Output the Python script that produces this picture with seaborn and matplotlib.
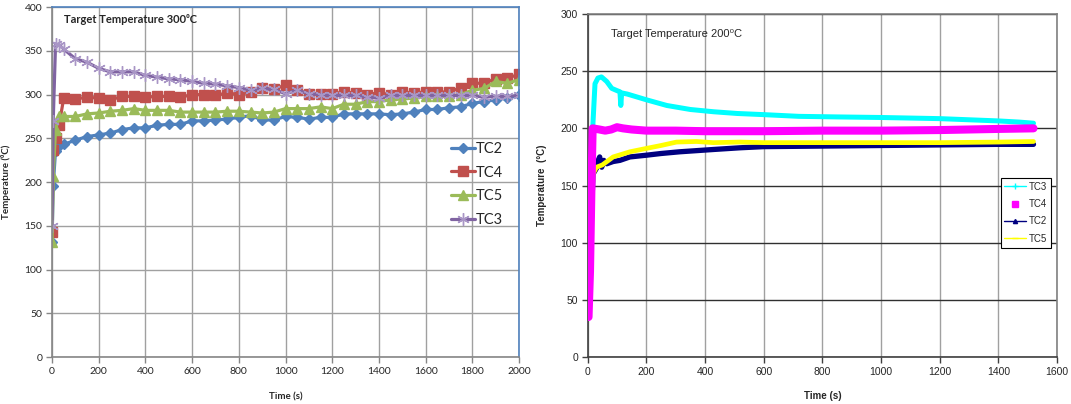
import numpy as np
import pandas as pd
import seaborn as sns
import matplotlib.pyplot as plt
from matplotlib.lines import Line2D

# ---- left chart: target 300 C (Excel style, markers every ~50 s)
time_300 = [0, 5, 15, 30, 50, 100, 150, 200, 250, 300, 350, 400, 450, 500, 550, 600,
            650, 700, 750, 800, 850, 900, 950, 1000, 1050, 1100, 1150, 1200, 1250,
            1300, 1350, 1400, 1450, 1500, 1550, 1600, 1650, 1700, 1750, 1800, 1850,
            1900, 1950, 2000]
tc2_300 = [132, 196, 236, 241, 243, 248, 252, 254, 256, 260, 262, 262, 265, 266, 266, 270,
           270, 271, 272, 274, 276, 271, 271, 275, 274, 272, 274, 274, 278,
           278, 278, 278, 277, 278, 280, 283, 283, 285, 286, 290, 292,
           294, 296, 299]
tc4_300 = [143, 237, 250, 265, 296, 295, 297, 296, 294, 298, 298, 297, 298, 298, 297, 300,
           300, 299, 302, 300, 303, 307, 306, 311, 305, 301, 301, 301, 303,
           302, 300, 302, 300, 303, 302, 303, 303, 303, 308, 313, 313,
           318, 319, 323]
tc5_300 = [131, 207, 260, 275, 275, 275, 278, 279, 281, 282, 284, 282, 282, 282, 280, 280,
           280, 280, 281, 281, 280, 279, 280, 284, 284, 284, 286, 284, 289,
           289, 292, 292, 294, 295, 296, 298, 298, 298, 300, 305, 307,
           315, 313, 317]
tc3_300 = [150, 270, 358, 357, 352, 341, 337, 330, 326, 326, 326, 322, 320, 318, 317, 315,
           313, 312, 310, 308, 305, 307, 306, 301, 305, 301, 300, 299, 299,
           299, 297, 296, 299, 299, 299, 299, 299, 299, 299, 299, 297,
           298, 298, 299]

# ---- right chart: target 200 C (logger data, read at irregular times)
tc3_t = [0, 10, 18, 25, 35, 47, 65, 82, 100, 110, 113, 116, 135, 200, 270, 350, 430,
         510, 600, 720, 850, 1000, 1100, 1200, 1300, 1400, 1470, 1520]
tc3_v = [38, 120, 204, 239, 244, 245, 241, 235, 233, 232, 220, 231, 230, 225, 220, 216.5,
         214.5, 213, 212, 210.5, 210, 209.5, 209, 208.5, 207.5, 206.5, 205.5, 204.5]
tc4_t = [0, 3, 8, 13, 17, 40, 60, 80, 100, 120, 150, 200, 300, 400, 500, 600, 800,
         1000, 1200, 1400, 1520]
tc4_v = [35, 35, 75, 150, 200, 199, 198, 199, 201, 200, 199, 198, 198, 197.5, 197.5,
         197.5, 198, 198, 198.5, 199.5, 200]
tc2_t = [0, 10, 18, 30, 36, 41, 48, 55, 65, 87, 110, 144, 200, 250, 314, 428, 519, 600,
         800, 1000, 1200, 1400, 1520]
tc2_v = [35, 100, 160, 165, 172, 175, 166, 172, 169, 171, 172, 175, 176.5, 178, 179.5,
         181.5, 183, 184, 184.5, 185, 185.5, 186, 186]
tc5_t = [0, 10, 18, 30, 50, 87, 144, 201, 250, 303, 371, 428, 519, 600, 800, 1000,
         1200, 1400, 1520]
tc5_v = [35, 100, 160, 166, 168, 175, 179.5, 182.5, 185, 188, 188.5, 187.5, 188, 187.5,
         187.5, 187.5, 187.5, 188, 188.5]

sns.set_theme(style="white")
plt.rcParams["font.family"] = ["Lato", "DejaVu Sans"]

fig = plt.figure(figsize=(10.71, 4.04), dpi=100)
ax1 = fig.add_axes([0.0486, 0.1163, 0.436, 0.866])
ax2 = fig.add_axes([0.5487, 0.1163, 0.4382, 0.849])

# ---------------- left
left = pd.DataFrame({"time": time_300, "TC2": tc2_300, "TC4": tc4_300,
                     "TC5": tc5_300, "TC3": tc3_300})
styles = {
    "TC2": dict(color="#4F81BD", marker="D", markersize=5.5, markeredgecolor="#4F81BD"),
    "TC4": dict(color="#C0504D", marker="s", markersize=7, markeredgecolor="#C0504D"),
    "TC5": dict(color="#9BBB59", marker="^", markersize=7, markeredgecolor="#9BBB59"),
    "TC3": dict(color="#8064A2", marker=(6, 2, 0), markersize=9,
                markeredgecolor="#A996C6"),
}
for name in ["TC2", "TC4", "TC5", "TC3"]:
    sns.lineplot(data=left, x="time", y=name, ax=ax1, label=name, linewidth=2.3,
                 markeredgewidth=1, **styles[name])

ax1.set_xlim(0, 2000)
ax1.set_ylim(0, 400)
ax1.set_xticks(range(0, 2001, 200))
ax1.set_yticks(range(0, 401, 50))
ax1.grid(True, color="#A0A0A0", linewidth=1)
for s in ["left", "bottom"]:
    ax1.spines[s].set_color("#868686")
for s in ["top", "right"]:
    ax1.spines[s].set_color("#4F81BD")
for s in ax1.spines.values():
    s.set_linewidth(1.2)
ax1.tick_params(axis="both", which="major", labelsize=7.5, length=4, width=1,
                color="#868686", direction="out", bottom=True, left=True, pad=3)
ax1.set_xlabel("Time (s)", fontsize=7, fontweight="bold", labelpad=12)
ax1.set_ylabel("Temperature (⁰C)", fontsize=7, fontweight="bold", labelpad=10)
ax1.text(0.026, 0.966, "Target Temperature 300⁰C", transform=ax1.transAxes,
         fontsize=8, fontweight="bold", va="center", ha="left")
ax1.legend(loc="center left", bbox_to_anchor=(0.855, 0.493), frameon=False,
           fontsize=10.5, handlelength=1.6, labelspacing=0.68, borderpad=0,
           handletextpad=0.1, borderaxespad=0)

# ---------------- right
rfont = ["Liberation Sans", "DejaVu Sans"]
sns.lineplot(x=tc3_t, y=tc3_v, ax=ax2, color="#00FFFF", linewidth=3.6, zorder=3)
sns.lineplot(x=tc2_t, y=tc2_v, ax=ax2, color="#000080", linewidth=3.8, zorder=3)
sns.lineplot(x=tc5_t, y=tc5_v, ax=ax2, color="#FFFF00", linewidth=3.4, zorder=4)
sns.lineplot(x=tc4_t, y=tc4_v, ax=ax2, color="#FF00FF", linewidth=5.8, zorder=5)

ax2.set_xlim(0, 1600)
ax2.set_ylim(0, 300)
ax2.set_xticks(range(0, 1601, 200))
ax2.set_yticks(range(0, 301, 50))
ax2.yaxis.grid(True, color="#303030", linewidth=1)
ax2.xaxis.grid(True, color="#A0A0A0", linewidth=1)
for s in ax2.spines.values():
    s.set_color("#808080")
    s.set_linewidth(1.2)
ax2.spines["bottom"].set_color("#404040")
ax2.spines["left"].set_color("#404040")
ax2.tick_params(axis="both", which="major", labelsize=7.5, length=4, width=1,
                color="#404040", direction="out", bottom=True, left=True, pad=3)
for lab in ax2.get_xticklabels() + ax2.get_yticklabels():
    lab.set_family(rfont)
ax2.set_xlabel("Time (s)", fontsize=7, fontweight="bold", family=rfont, labelpad=10)
ax2.set_ylabel("Temperature  (°C)", fontsize=7, fontweight="bold", family=rfont,
               labelpad=10)
ax2.text(0.05, 0.942, "Target Temperature 200⁰C", transform=ax2.transAxes,
         fontsize=8, va="center", ha="left", family=rfont)

handles = [
    Line2D([], [], color="#00FFFF", linewidth=1, marker="+", markersize=4),
    Line2D([], [], color="#FF00FF", linestyle="none", marker="s", markersize=5),
    Line2D([], [], color="#000080", linewidth=1, marker="^", markersize=3),
    Line2D([], [], color="#FFFF00", linewidth=1, marker="_", markersize=4),
]
leg = ax2.legend(handles, ["TC3", "TC4", "TC2", "TC5"], loc="upper right",
                 bbox_to_anchor=(0.987, 0.522), borderaxespad=0, fancybox=False,
                 framealpha=1, edgecolor="black", fontsize=7, handlelength=2.2,
                 labelspacing=0.75, handletextpad=0.3, borderpad=0.4,
                 prop={"family": rfont, "size": 7})
leg.get_frame().set_linewidth(0.8)

fig.savefig("out.png", dpi=100)
